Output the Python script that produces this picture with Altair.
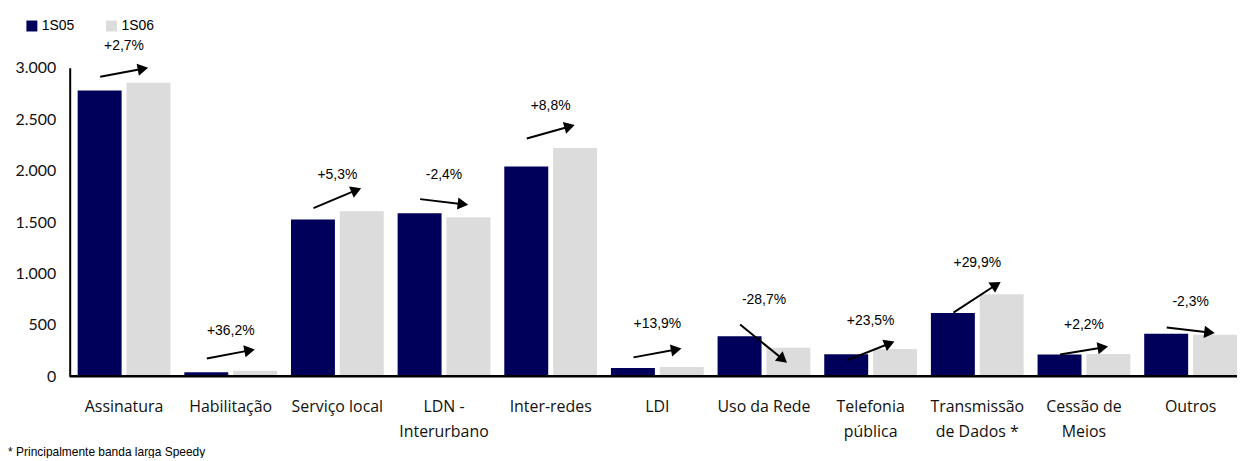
import math
import altair as alt
import pandas as pd

categories = ["Assinatura", "Habilitação", "Serviço local", "LDN -\nInterurbano", "Inter-redes",
              "LDI", "Uso da Rede", "Telefonia\npública", "Transmissão\nde Dados *",
              "Cessão de\nMeios", "Outros"]
series_names = ["1S05", "1S06"]
values_1s05 = [2780, 40, 1525, 1585, 2040, 80, 390, 215, 615, 213, 415]
values_1s06 = [2855, 54, 1606, 1547, 2220, 91, 278, 265, 799, 218, 405]
changes = ["+2,7%", "+36,2%", "+5,3%", "-2,4%", "+8,8%", "+13,9%", "-28,7%", "+23,5%",
           "+29,9%", "+2,2%", "-2,3%"]
label_y = [3213, 445, 1955, 1955, 2632, 513, 745, 542, 1103, 494, 726]
arrow_from = [2913, 174, 1635, 1723, 2313, 184, 503, 155, 619, 213, 474]
arrow_to = [2990, 252, 1810, 1674, 2429, 261, 165, 319, 890, 281, 426]
y_ticks = [0, 500, 1000, 1500, 2000, 2500, 3000]
footnote = "* Principalmente banda larga Speedy"

W, H = 1165, 310
YMAX = 3000
DX0, DX1 = -24, 19

rows = []
for c, a, b in zip(categories, values_1s05, values_1s06):
    rows.append({"cat": c, "series": series_names[0], "value": a})
    rows.append({"cat": c, "series": series_names[1], "value": b})
bars_df = pd.DataFrame(rows)

ann = pd.DataFrame({"cat": categories, "txt": changes, "ly": label_y,
                    "from": arrow_from, "to": arrow_to})
ppu = H / YMAX
ann["ang"] = [
    (360 - math.degrees(math.atan2((t - f) * ppu, DX1 - DX0))) % 360
    for f, t in zip(arrow_from, arrow_to)
]

xenc = alt.X("cat:N", sort=categories, title=None,
             scale=alt.Scale(paddingInner=0.13, paddingOuter=0),
             axis=alt.Axis(labelExpr="split(datum.label, '\\n')", labelAngle=0,
                           labelFont="Open Sans", labelFontSize=16, labelColor="#111",
                           labelPadding=22, labelLineHeight=25, ticks=False,
                           domain=False, labelLimit=200))
yscale = alt.Scale(domain=[0, YMAX], nice=False)

bars = alt.Chart(bars_df).mark_bar().encode(
    x=xenc,
    xOffset=alt.XOffset("series:N", sort=series_names, scale=alt.Scale(paddingInner=0.1)),
    y=alt.Y("value:Q", scale=yscale, title=None,
            axis=alt.Axis(values=y_ticks, grid=False, ticks=False, offset=8,
                          labelExpr="replace(format(datum.value, ','), ',', '.')",
                          labelFont="Lato", labelFontSize=16, labelColor="#111",
                          labelPadding=14, domainColor="black", domainWidth=2)),
    color=alt.Color("series:N", sort=series_names,
                    scale=alt.Scale(domain=series_names, range=["#00005A", "#DCDCDC"]),
                    legend=alt.Legend(orient="none", legendX=-53, legendY=-49,
                                      direction="horizontal", title=None,
                                      symbolType="square", symbolSize=121,
                                      symbolStrokeWidth=0, labelFontSize=14,
                                      labelFont="Liberation Sans", labelColor="black",
                                      columnPadding=30, labelOffset=3, padding=0)),
)

baseline = alt.Chart(pd.DataFrame({"v": [0]})).mark_rule(color="black", strokeWidth=2.5).encode(
    x=alt.value(-8), x2=alt.value(W), y=alt.Y("v:Q", scale=yscale),
)

base = alt.Chart(ann)
rules = base.mark_rule(color="black", strokeWidth=2, xOffset=DX0, x2Offset=DX1).encode(
    x=alt.X("cat:N", sort=categories),
    x2="cat:N",
    y=alt.Y("from:Q", scale=yscale),
    y2="to:Q",
)
heads = base.mark_point(shape="triangle-right", filled=True, color="black", size=150,
                        opacity=1, xOffset=DX1).encode(
    x=alt.X("cat:N", sort=categories),
    y=alt.Y("to:Q", scale=yscale),
    angle=alt.Angle("ang:Q", scale=None),
)
labels = base.mark_text(font="Liberation Sans", fontSize=14, color="black",
                        baseline="middle").encode(
    x=alt.X("cat:N", sort=categories),
    y=alt.Y("ly:Q", scale=yscale),
    text="txt:N",
)

chart = alt.layer(bars, baseline, rules, heads, labels).properties(
    width=W, height=H,
    autosize=alt.AutoSizeParams(type="none"),
    padding={"left": 70, "top": 59, "right": 0, "bottom": 81},
    title=alt.TitleParams(footnote, orient="bottom", anchor="start", frame="bounds",
                          font="Liberation Sans", fontSize=12, fontWeight="normal",
                          color="black", offset=8, dx=-7),
).configure(background="white").configure_view(stroke=None)

chart.save("out.html", embed_options={"renderer": "svg", "actions": False})
